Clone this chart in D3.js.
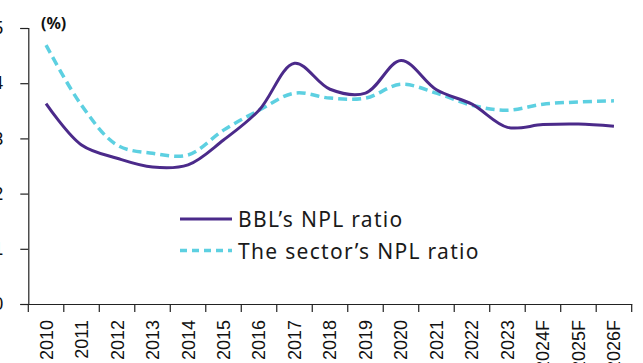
<!DOCTYPE html>
<html>
<head>
<meta charset="utf-8">
<script src="https://cdn.jsdelivr.net/npm/d3@7"></script>
<style>
  html, body { margin: 0; padding: 0; background: #fff; }
  svg { display: block; }
</style>
</head>
<body>
<svg id="chart" width="643" height="363"></svg>
<script>
// Years on the x axis (forecast years marked with F)
const categories = ["2010", "2011", "2012", "2013", "2014", "2015", "2016", "2017", "2018",
  "2019", "2020", "2021", "2022", "2023", "2024F", "2025F", "2026F"];
// Non-performing loan ratios, %
const bblNpl = [3.63, 2.88, 2.64, 2.48, 2.52, 2.97, 3.51, 4.36, 3.89, 3.82, 4.41, 3.88, 3.62, 3.20, 3.25, 3.26, 3.22];
const sectorNpl = [4.69, 3.60, 2.88, 2.73, 2.70, 3.15, 3.51, 3.82, 3.73, 3.73, 3.98, 3.82, 3.60, 3.51, 3.62, 3.66, 3.68];
const yTicks = [0, 1, 2, 3, 4, 5];
const seriesNames = ["BBL\u2019s NPL ratio", "The sector\u2019s NPL ratio"];

const svg = d3.select("#chart");
const plotLeft = 28.3, plotRight = 631.7, plotTop = 28, plotBottom = 304;

const x = d3.scaleBand().domain(categories).range([plotLeft, plotRight]).padding(0);
const y = d3.scaleLinear().domain([0, 5]).range([plotBottom, plotTop]);
const bw = x.bandwidth();

const axisColor = "#222";
const purple = "#4b2a8a";
const cyan = "#5dd0e1";

// y axis
const yAxis = svg.append("g")
  .attr("transform", `translate(${plotLeft},0)`)
  .call(d3.axisLeft(y).tickValues(yTicks).tickFormat(d3.format("d")).tickSize(8).tickPadding(17));
yAxis.selectAll("path, line").attr("stroke", axisColor).attr("stroke-width", 1.2);
yAxis.selectAll("text").attr("font-family", "Liberation Sans, Arial, sans-serif")
  .attr("font-size", 18).attr("fill", "#111");

// x axis: ticks sit on band boundaries, labels at band centres, rotated
const xAxis = svg.append("g")
  .attr("transform", `translate(0,${plotBottom})`)
  .call(d3.axisBottom(x).tickSize(8).tickSizeOuter(0).tickPadding(0));
xAxis.selectAll("path, line").attr("stroke", axisColor).attr("stroke-width", 1.2);
xAxis.selectAll(".tick line").attr("x1", -bw / 2).attr("x2", -bw / 2);
xAxis.append("line")
  .attr("x1", plotRight).attr("x2", plotRight).attr("y1", 0).attr("y2", 8)
  .attr("stroke", axisColor).attr("stroke-width", 1.2);
xAxis.selectAll(".tick text")
  .attr("font-family", "Liberation Sans, Arial, sans-serif")
  .attr("font-size", 18).attr("fill", "#111")
  .attr("transform", "rotate(-90)")
  .attr("text-anchor", "end")
  .attr("x", -16).attr("y", 0).attr("dy", "0.36em");

// unit label
svg.append("text")
  .attr("x", 41).attr("y", 29)
  .attr("font-family", "Noto Sans, sans-serif").attr("font-weight", "bold")
  .attr("font-size", 16).attr("fill", "#111")
  .text("(%)");

// series lines
const line = d3.line()
  .x((d, i) => x(categories[i]) + bw / 2)
  .y(d => y(d))
  .curve(d3.curveCatmullRom.alpha(0.5));

svg.append("path").datum(sectorNpl)
  .attr("d", line).attr("fill", "none")
  .attr("stroke", cyan).attr("stroke-width", 3.5)
  .attr("stroke-dasharray", "9,5");

svg.append("path").datum(bblNpl)
  .attr("d", line).attr("fill", "none")
  .attr("stroke", purple).attr("stroke-width", 3);

// legend
const legend = svg.append("g").attr("transform", "translate(180,219)");
const styles = [
  { stroke: purple, dash: null, width: 3 },
  { stroke: cyan, dash: "7,5", width: 3.5 }
];
seriesNames.forEach((name, i) => {
  const g = legend.append("g").attr("transform", `translate(0,${i * 31.5})`);
  g.append("line").attr("x1", 0).attr("x2", 52).attr("y1", 0).attr("y2", 0)
    .attr("stroke", styles[i].stroke).attr("stroke-width", styles[i].width)
    .attr("stroke-dasharray", styles[i].dash);
  g.append("text").attr("x", 58).attr("y", 8)
    .attr("font-family", "Noto Sans, sans-serif").attr("font-size", 21)
    .attr("letter-spacing", 1.3)
    .attr("fill", "#1a1a1a").text(name);
});
</script>
</body>
</html>
